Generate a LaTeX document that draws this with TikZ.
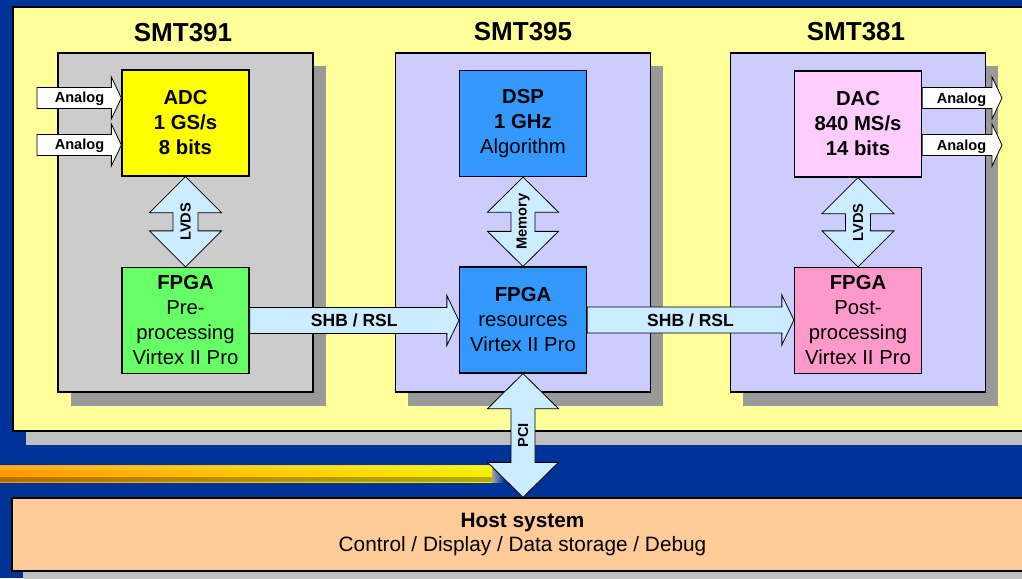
\documentclass[tikz,border=0pt]{standalone}
\usepackage{fontspec}
\setmainfont{Liberation Sans}
\usetikzlibrary{calc,shadows}
\definecolor{bgblue}{HTML}{003399}
\definecolor{panelyellow}{HTML}{FFFF99}
\definecolor{panelshadow}{HTML}{C0C0C0}
\definecolor{boardgrey}{HTML}{CCCCCC}
\definecolor{boardlav}{HTML}{CCCCFF}
\definecolor{boardshadow}{HTML}{999999}
\definecolor{adcyellow}{HTML}{FFFF00}
\definecolor{fpgagreen}{HTML}{66FF66}
\definecolor{dspblue}{HTML}{3399FF}
\definecolor{dacpink}{HTML}{FFCCFF}
\definecolor{fpgapink}{HTML}{FF99CC}
\definecolor{busblue}{HTML}{CCECFF}
\definecolor{hostorange}{HTML}{FFCC99}
\definecolor{stripeL}{HTML}{FF9900}
\definecolor{stripeM}{HTML}{FFC800}
\definecolor{stripeR}{HTML}{F5F000}

% horizontal single arrow: style, from, tip, shaft half, head half, head length
\newcommand\hbus[6]{\draw[#1] let \p1=(#2), \p2=(#3) in (\x1,\y1+#4) -- (\x2-#6,\y1+#4) -- (\x2-#6,\y1+#5) -- (\x2,\y1) -- (\x2-#6,\y1-#5) -- (\x2-#6,\y1-#4) -- (\x1,\y1-#4) -- cycle;}
% vertical double arrow: style, top tip, bottom tip, shaft half, head half, head length
\newcommand\vbus[6]{\draw[#1] let \p1=(#2), \p2=(#3) in (\x1,\y1) -- (\x1+#5,\y1-#6) -- (\x1+#4,\y1-#6) -- (\x1+#4,\y2+#6) -- (\x1+#5,\y2+#6) -- (\x1,\y2) -- (\x1-#5,\y2+#6) -- (\x1-#4,\y2+#6) -- (\x1-#4,\y1-#6) -- (\x1-#5,\y1-#6) -- cycle;}

\begin{document}
\begin{tikzpicture}[x=1pt,y=-1pt,
 boardbox/.style={draw=black,line width=1.4pt,inner sep=0pt,minimum width=255pt,minimum height=339pt,
   drop shadow={shadow xshift=12.5pt,shadow yshift=-13.5pt,opacity=1,fill=boardshadow}},
 chip/.style={draw=black,line width=1.3pt,inner sep=0pt,minimum width=127pt,minimum height=106pt,align=center,font=\fontsize{20.3}{25}\selectfont},
 bus/.style={draw=black,line width=0.8pt,fill=busblue},
 sig/.style={draw=black,line width=0.8pt,fill=white},
 smalllbl/.style={font=\bfseries\fontsize{14.6}{14.6}\selectfont,inner sep=0pt},
 buslbl/.style={font=\bfseries\fontsize{17.5}{17.5}\selectfont,inner sep=0pt,anchor=base},
 title/.style={font=\bfseries\fontsize{26}{26}\selectfont,inner sep=0pt,anchor=base}]
\useasboundingbox (0,0) rectangle (1022,578);
\clip (0,0) rectangle (1022,578);
\fill[bgblue] (0,0) rectangle (1022,578);

% decorative stripe
\shade[left color=stripeL,right color=stripeR,middle color=stripeM] (0,465) rectangle (492,482);
\fill[white,opacity=0.15] (0,466) rectangle (492,470);
\fill[black,opacity=0.28] (0,476.5) rectangle (492,482);
\shade[left color=gray!70,right color=bgblue] (492,466) rectangle (504,482);

% main panel
\node[draw=black,line width=1.7pt,fill=panelyellow,minimum width=1030pt,minimum height=424pt,inner sep=0pt,
  drop shadow={shadow xshift=13pt,shadow yshift=-14pt,opacity=1,fill=panelshadow}] (panel) at (528,219) {};

% host
\node[draw=black,line width=1.3pt,fill=hostorange,minimum width=1021pt,minimum height=73pt,inner sep=0pt,
  align=center,font=\fontsize{20.8}{24.5}\selectfont,
  drop shadow={shadow xshift=11pt,shadow yshift=-11pt,opacity=1,fill=panelshadow}] (host) at (522.5,534.5)
  {\textbf{Host system}\\Control / Display / Data storage / Debug};

% boards
\node[boardbox,fill=boardgrey] (b1) at (185.5,222.5) {};
\node[boardbox,fill=boardlav] (b2) at (523,222.5) {};
\node[boardbox,fill=boardlav] (b3) at (858,222.5) {};
\node[title] (t1) at (183,42) {SMT391};
\node[title] (t2) at (523,41) {SMT395};
\node[title] (t3) at (856,41) {SMT381};

% chips
\node[chip,fill=adcyellow] (adc) at (185.5,123) {\textbf{ADC}\\\textbf{1 GS/s}\\\textbf{8 bits}};
\node[chip,fill=fpgagreen] (f1) at (185.5,320.5) {\textbf{FPGA}\\Pre-\\processing\\Virtex II Pro};
\node[chip,fill=dspblue] (dsp) at (523,123.5) {\textbf{DSP}\\\textbf{1 GHz}\\Algorithm};
\node[chip,fill=dspblue] (f2) at (523,320) {\textbf{FPGA}\\resources\\Virtex II Pro};
\node[chip,fill=dacpink] (dac) at (858,124) {\textbf{DAC}\\\textbf{840 MS/s}\\\textbf{14 bits}};
\node[chip,fill=fpgapink] (f3) at (858,320.5) {\textbf{FPGA}\\Post-\\processing\\Virtex II Pro};

% analog signals
\coordinate (ain1) at (37,98);
\coordinate (ain2) at (37,145);
\coordinate (aout1) at (1002,98);
\coordinate (aout2) at (1002,145);
\hbus{sig}{ain1}{adc.west |- ain1}{10.5pt}{21pt}{10pt}
\hbus{sig}{ain2}{adc.west |- ain2}{10.5pt}{21pt}{10pt}
\hbus{sig}{dac.east |- aout1}{aout1}{10.5pt}{21pt}{10pt}
\hbus{sig}{dac.east |- aout2}{aout2}{10.5pt}{21pt}{10pt}
\node[smalllbl,anchor=base] (lin1) at (79.5,102.5) {Analog};
\node[smalllbl,anchor=base] (lin2) at (79.5,149.5) {Analog};
\node[smalllbl,anchor=base] (lout1) at (961.5,103) {Analog};
\node[smalllbl,anchor=base] (lout2) at (961.5,150) {Analog};

% buses
\hbus{bus}{f1.east}{f2.west}{13pt}{25pt}{12pt}
\hbus{bus}{f2.east}{f3.west}{13pt}{25pt}{12pt}
\vbus{bus}{adc.south}{f1.north}{12.5pt}{36pt}{36pt}
\vbus{bus}{dsp.south}{f2.north}{12pt}{35.5pt}{35pt}
\vbus{bus}{dac.south}{f3.north}{12.5pt}{36pt}{36pt}
\vbus{bus}{f2.south}{f2.south |- host.north}{12pt}{35.5pt}{35pt}

\node[buslbl,yshift=-6pt] (shb1) at ($(f1.east)!0.5!(f2.west)$) {SHB / RSL};
\node[buslbl,yshift=-6pt] (shb2) at ($(f2.east)!0.5!(f3.west)$) {SHB / RSL};
\node[smalllbl,rotate=90] (lvds1) at ($(adc.south)!0.5!(f1.north)$) {LVDS};
\node[smalllbl,rotate=90] (mem) at ($(dsp.south)!0.5!(f2.north)$) {Memory};
\node[smalllbl,rotate=90] (lvds2) at ($(dac.south)!0.5!(f3.north)$) {LVDS};
\node[smalllbl,rotate=90] (pci) at ($(f2.south)!0.5!(f2.south |- host.north)$) {PCI};
\end{tikzpicture}
\end{document}
